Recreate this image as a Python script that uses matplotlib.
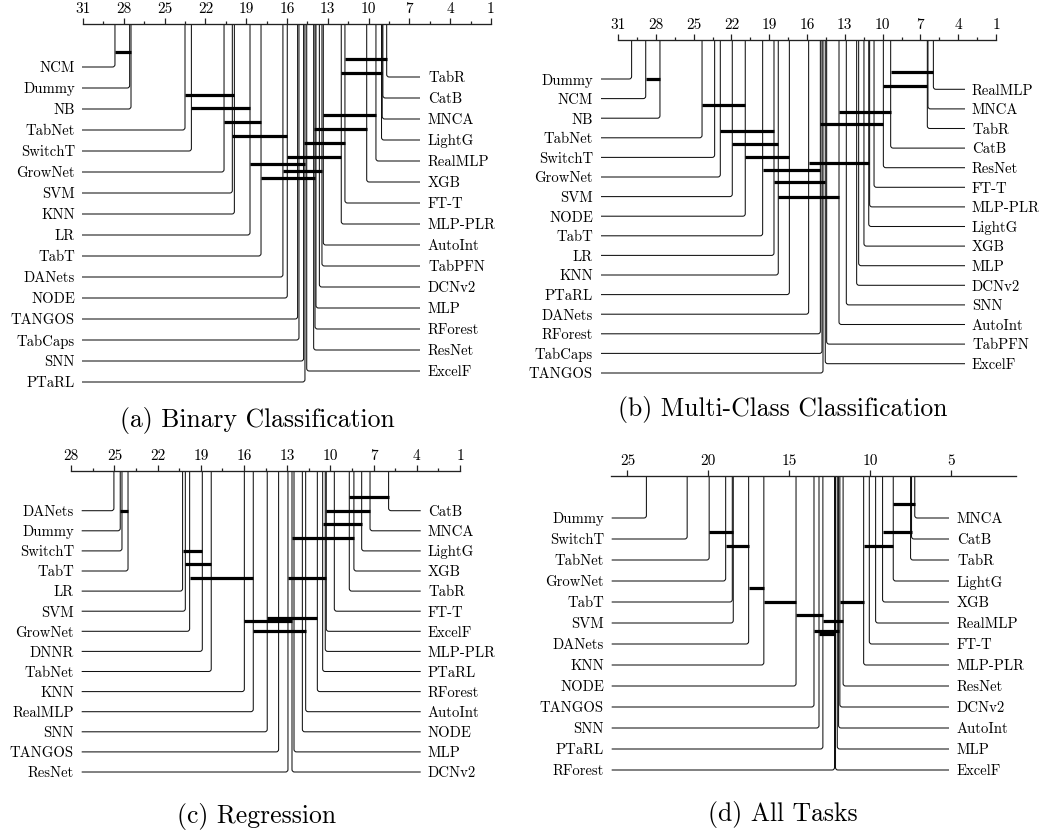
import matplotlib
matplotlib.use("Agg")
import matplotlib.pyplot as plt
from matplotlib.path import Path
from matplotlib.patches import PathPatch

plt.rcParams['font.family'] = ['cmr10', 'DejaVu Serif']
plt.rcParams['axes.formatter.use_mathtext'] = True

# ---------------- data ----------------
# (a) Binary Classification
A_LEFT_NAMES = ["NCM", "Dummy", "NB", "TabNet", "SwitchT", "GrowNet", "SVM", "KNN",
                "LR", "TabT", "DANets", "NODE", "TANGOS", "TabCaps", "SNN", "PTaRL"]
A_LEFT_RANKS = [28.65, 27.57, 27.47, 23.50, 23.03, 20.63, 20.02, 19.87,
                18.72, 17.91, 16.30, 15.98, 15.22, 15.12, 14.78, 14.68]
A_RIGHT_NAMES = ["TabR", "CatB", "MNCA", "LightG", "RealMLP", "XGB", "FT-T", "MLP-PLR",
                 "AutoInt", "TabPFN", "DCNv2", "MLP", "RForest", "ResNet", "ExcelF"]
A_RIGHT_RANKS = [8.67, 8.95, 9.00, 9.05, 9.46, 10.14, 11.74, 12.01,
                 13.33, 13.43, 13.62, 13.87, 13.94, 14.04, 14.55]
A_CLIQUES = [("NCM", "NB"), ("FT-T", "TabR"), ("MLP-PLR", "LightG"), ("TabNet", "KNN"),
             ("SwitchT", "LR"), ("AutoInt", "RealMLP"), ("GrowNet", "TabT"), ("ResNet", "XGB"),
             ("SVM", "NODE"), ("SNN", "FT-T"), ("NODE", "MLP-PLR"), ("LR", "PTaRL"),
             ("DANets", "TabPFN"), ("TabT", "RForest")]
A_TICKS = [31, 28, 25, 22, 19, 16, 13, 10, 7, 4, 1]
A_MINOR = [29.5, 26.5, 23.5, 20.5, 17.5, 14.5, 11.5, 8.5, 5.5, 2.5]

# (b) Multi-Class Classification
B_LEFT_NAMES = ["Dummy", "NCM", "NB", "TabNet", "SwitchT", "GrowNet", "SVM", "NODE",
                "TabT", "LR", "KNN", "PTaRL", "DANets", "RForest", "TabCaps", "TANGOS"]
B_LEFT_RANKS = [29.92, 28.80, 27.67, 24.33, 23.33, 22.88, 21.93, 20.90,
                19.52, 18.62, 18.28, 17.40, 15.87, 14.94, 14.81, 14.73]
B_RIGHT_NAMES = ["RealMLP", "MNCA", "TabR", "CatB", "ResNet", "FT-T", "MLP-PLR", "LightG",
                 "XGB", "MLP", "DCNv2", "SNN", "AutoInt", "TabPFN", "ExcelF"]
B_RIGHT_RANKS = [5.97, 6.40, 6.45, 9.36, 9.94, 10.68, 11.03, 11.10,
                 11.48, 11.90, 12.06, 12.88, 13.46, 14.44, 14.55]
B_CLIQUES = [("CatB", "RealMLP"), ("NCM", "NB"), ("ResNet", "TabR"), ("TabNet", "NODE"),
             ("AutoInt", "CatB"), ("RForest", "ResNet"), ("GrowNet", "LR"), ("SVM", "KNN"),
             ("NODE", "PTaRL"), ("DANets", "LightG"), ("TabT", "RForest"), ("LR", "ExcelF"),
             ("KNN", "AutoInt")]
B_TICKS = A_TICKS
B_MINOR = A_MINOR

# (c) Regression
C_LEFT_NAMES = ["DANets", "Dummy", "SwitchT", "TabT", "LR", "SVM", "GrowNet", "DNNR",
                "TabNet", "KNN", "RealMLP", "SNN", "TANGOS", "ResNet"]
C_LEFT_RANKS = [25.04, 24.60, 24.48, 24.06, 20.27, 20.08, 19.78, 18.90,
                18.28, 15.98, 15.36, 14.39, 13.60, 12.95]
C_RIGHT_NAMES = ["CatB", "MNCA", "LightG", "XGB", "TabR", "FT-T", "ExcelF", "MLP-PLR",
                 "PTaRL", "RForest", "AutoInt", "NODE", "MLP", "DCNv2"]
C_RIGHT_RANKS = [5.96, 7.25, 7.83, 8.37, 8.69, 9.73, 10.29, 10.36,
                 10.54, 10.91, 11.72, 11.95, 12.53, 12.67]
C_CLIQUES = [("TabR", "CatB"), ("Dummy", "TabT"), ("ExcelF", "MNCA"), ("PTaRL", "LightG"),
             ("DCNv2", "XGB"), ("LR", "DNNR"), ("SVM", "TabNet"), ("GrowNet", "RealMLP"),
             ("ResNet", "ExcelF"), ("SNN", "RForest"), ("KNN", "DCNv2"), ("RealMLP", "AutoInt")]
C_TICKS = [28, 25, 22, 19, 16, 13, 10, 7, 4, 1]
C_MINOR = [26.5, 23.5, 20.5, 17.5, 14.5, 11.5, 8.5, 5.5, 2.5]

# (d) All Tasks
D_LEFT_NAMES = ["Dummy", "SwitchT", "TabNet", "GrowNet", "TabT", "SVM", "DANets", "KNN",
                "NODE", "TANGOS", "SNN", "PTaRL", "RForest"]
D_LEFT_RANKS = [23.83, 21.31, 19.95, 18.93, 18.52, 18.46, 17.51, 16.57,
                14.58, 13.47, 13.16, 12.92, 12.20]
D_RIGHT_NAMES = ["MNCA", "CatB", "TabR", "LightG", "XGB", "RealMLP", "FT-T", "MLP-PLR",
                 "ResNet", "DCNv2", "AutoInt", "MLP", "ExcelF"]
D_RIGHT_RANKS = [7.24, 7.44, 7.50, 8.57, 9.23, 9.66, 10.05, 10.40,
                 11.67, 11.87, 11.95, 12.03, 12.14]
D_CLIQUES = [("LightG", "MNCA"), ("TabNet", "SVM"), ("XGB", "CatB"), ("GrowNet", "DANets"),
             ("MLP-PLR", "LightG"), ("DANets", "KNN"), ("KNN", "NODE"), ("DCNv2", "MLP-PLR"),
             ("NODE", "PTaRL"), ("PTaRL", "ResNet"), ("TANGOS", "AutoInt"), ("SNN", "ExcelF")]
D_TICKS = [25, 20, 15, 10, 5]
D_MINOR = []

# ---------------- layout (pixels) ----------------
W, H = 1044, 833
LAYOUT = {
    "a": dict(title="(a) Binary Classification", rng=(31, 1), x0=83, x1=491, ay=24,
              band=(0, 430), yl=67, yr=77, step=21.0, ll=82, lr=420, tl=75, tr=428,
              cap=(257, 421),
              levels=[-0.70, -0.37, 0.27, 1.32, 1.97, 2.30, 2.63, 2.97, 3.30, 3.63,
                      4.30, 4.63, 4.97, 5.30]),
    "b": dict(title="(b) Multi-Class Classification", rng=(31, 1), x0=618, x1=996, ay=40,
              band=(0, 430), yl=79, yr=89.3, step=19.6, ll=601, lr=965, tl=593, tr=972,
              cap=(783, 410),
              levels=[-0.34, 0.0, 0.36, 1.34, 1.67, 2.31, 2.65, 3.31, 3.96, 4.30,
                      4.64, 5.28, 6.0]),
    "c": dict(title="(c) Regression", rng=(28, 1), x0=71.3, x1=460, ay=471,
              band=(430, 833), yl=510.7, yr=510.7, step=20.1, ll=81.7, lr=420.7, tl=74, tr=428,
              cap=(257, 817),
              levels=[-0.67, 0.0, 0.0, 0.68, 1.34, 1.99, 2.67, 3.34, 3.34, 5.32, 5.49, 5.99]),
    "d": dict(title="(d) All Tasks", rng=(26, 1), x0=611.3, x1=1015.7, ay=476,
              band=(430, 833), yl=518, yr=518, step=21.0, ll=611.7, lr=949, tl=604, tr=957,
              cap=(783, 815),
              levels=[-0.67, 0.67, 0.67, 1.33, 1.33, 3.33, 4.0, 4.0, 4.62, 4.89, 5.37, 5.5]),
}

PANELS = {
    "a": (A_LEFT_NAMES, A_LEFT_RANKS, A_RIGHT_NAMES, A_RIGHT_RANKS, A_CLIQUES, A_TICKS, A_MINOR),
    "b": (B_LEFT_NAMES, B_LEFT_RANKS, B_RIGHT_NAMES, B_RIGHT_RANKS, B_CLIQUES, B_TICKS, B_MINOR),
    "c": (C_LEFT_NAMES, C_LEFT_RANKS, C_RIGHT_NAMES, C_RIGHT_RANKS, C_CLIQUES, C_TICKS, C_MINOR),
    "d": (D_LEFT_NAMES, D_LEFT_RANKS, D_RIGHT_NAMES, D_RIGHT_RANKS, D_CLIQUES, D_TICKS, D_MINOR),
}

LINE_C = "#111111"
LW = 0.75
BAR_LW = 2.3
LABEL_FS = 10.6
TICK_FS = 11.0
CAP_FS = 18.5
RAD = 2.5  # corner radius in px

fig = plt.figure(figsize=(W / 100, H / 100), dpi=100)


def draw_panel(key):
    L = LAYOUT[key]
    lnames, lranks, rnames, rranks, cliques, ticks, minor = PANELS[key]
    rmax, rmin = L["rng"]
    top, bot = L["band"]
    ax = fig.add_axes([L["x0"] / W, 1 - bot / H, (L["x1"] - L["x0"]) / W, (bot - top) / H])
    ax.set_xlim(rmax, rmin)
    ax.set_ylim(bot, top)
    ppr = (L["x1"] - L["x0"]) / (rmax - rmin)  # px per rank

    def px2r(px):
        return rmax - (px - L["x0"]) / ppr

    rad_r = RAD / ppr
    # axis
    for s in ["left", "right", "bottom"]:
        ax.spines[s].set_visible(False)
    ax.spines["top"].set_position(("data", L["ay"]))
    ax.spines["top"].set_linewidth(0.95)
    ax.spines["top"].set_color("#222222")
    ax.xaxis.set_ticks_position("top")
    ax.set_xticks(ticks, labels=[str(t) for t in ticks])
    ax.set_xticks(minor, minor=True)
    ax.tick_params(axis="x", which="major", direction="out", length=4.4, width=0.9,
                   pad=1.6, labelsize=TICK_FS, colors="#222222", labelcolor="black")
    ax.tick_params(axis="x", which="minor", direction="out", length=2.4, width=0.9,
                   colors="#222222")
    ax.yaxis.set_visible(False)
    ax.patch.set_visible(False)

    ay = L["ay"]
    # left side connectors and labels
    for i, (nm, r) in enumerate(zip(lnames, lranks)):
        y = L["yl"] + i * L["step"]
        verts = [(px2r(L["ll"]), y), (r + rad_r, y), (r, y), (r, y - RAD), (r, ay)]
        codes = [Path.MOVETO, Path.LINETO, Path.CURVE3, Path.CURVE3, Path.LINETO]
        ax.add_patch(PathPatch(Path(verts, codes), fill=False, lw=LW, ec=LINE_C,
                               clip_on=False))
        ax.text(px2r(L["tl"]), y, nm, ha="right", va="center_baseline",
                fontsize=LABEL_FS, clip_on=False)
    # right side connectors and labels
    for i, (nm, r) in enumerate(zip(rnames, rranks)):
        y = L["yr"] + i * L["step"]
        verts = [(px2r(L["lr"]), y), (r - rad_r, y), (r, y), (r, y - RAD), (r, ay)]
        codes = [Path.MOVETO, Path.LINETO, Path.CURVE3, Path.CURVE3, Path.LINETO]
        ax.add_patch(PathPatch(Path(verts, codes), fill=False, lw=LW, ec=LINE_C,
                               clip_on=False))
        ax.text(px2r(L["tr"]), y, nm, ha="left", va="center_baseline",
                fontsize=LABEL_FS, clip_on=False)
    # cliques
    rank_of = dict(zip(lnames + rnames, lranks + rranks))
    for (a, b), lev in zip(cliques, L["levels"]):
        yb = L["yl"] + lev * L["step"]
        ax.plot([rank_of[a], rank_of[b]], [yb, yb], color="black", lw=BAR_LW,
                solid_capstyle="butt", clip_on=False, zorder=3)
    cx, cy = L["cap"]
    fig.text(cx / W, 1 - cy / H, L["title"], ha="center", va="center", fontsize=CAP_FS)


for k in ["a", "b", "c", "d"]:
    draw_panel(k)

fig.savefig("out.png", dpi=100)
